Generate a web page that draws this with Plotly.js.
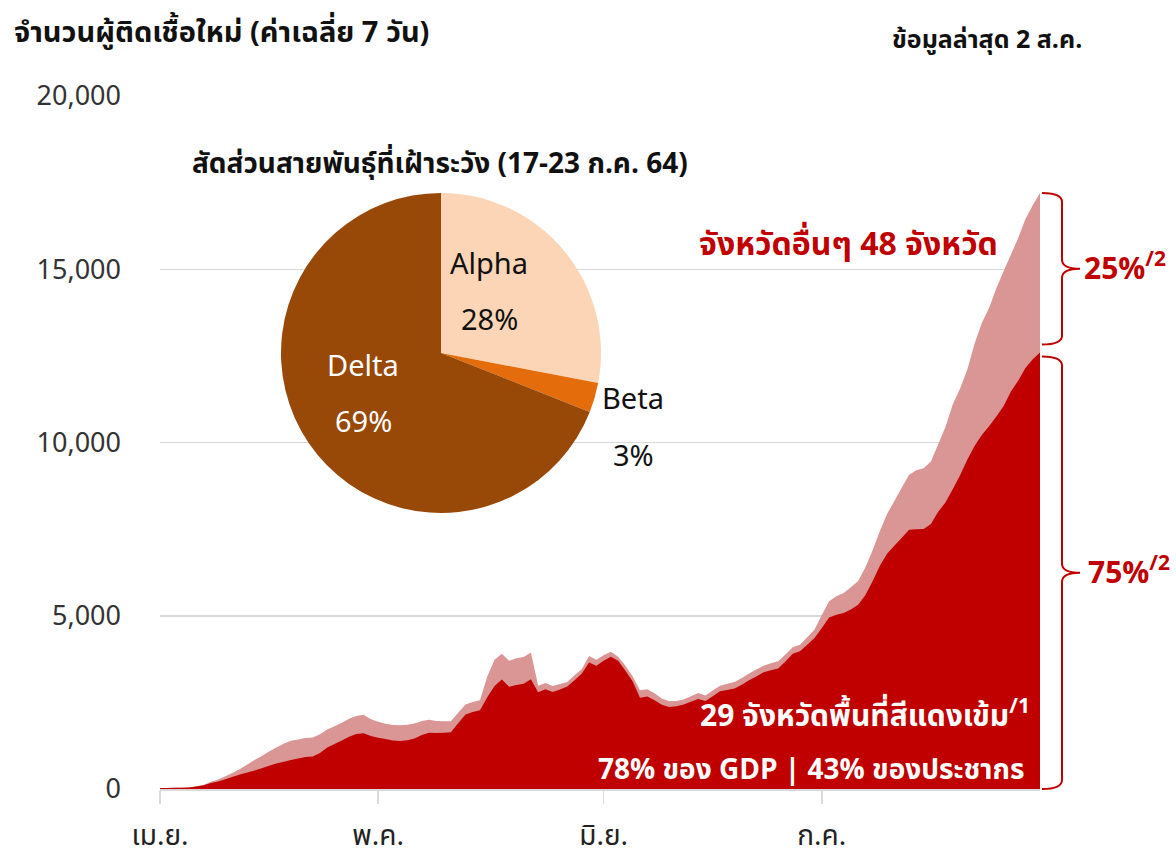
<!DOCTYPE html>
<html>
<head>
<meta charset="utf-8">
<script src="https://cdn.plot.ly/plotly-3.0.1.min.js"></script>
<style>html,body{margin:0;padding:0;background:#fff;}#chart{width:1176px;height:859px;}</style>
</head>
<body>
<div id="chart"></div>
<script>
// ---- DATA (7-day average new cases, daily from 1 Apr 2021) ----
var startDate = '2021-04-01';
var redZone29 = [30,32,35,38,42,75,108,170,215,280,350,420,478,532,600,672,735,790,840,880,
  923,935,1040,1200,1300,1400,1510,1590,1610,1530,1480,1443,1400,1385,1410,1460,1560,1620,1616,1620,
  1640,1900,2150,2220,2270,2650,2970,3160,2950,3000,3040,3170,2789,2880,2800,2870,2960,3140,3330,3650,
  3560,3700,3820,3700,3410,3100,2630,2670,2560,2430,2370,2390,2440,2520,2598,2540,2680,2818,2860,2900,
  3010,3140,3250,3367,3430,3480,3680,3900,3973,4160,4360,4650,4950,5030,5080,5180,5320,5600,6000,6450,
  6800,7030,7250,7480,7500,7506,7650,8000,8270,8650,9050,9500,9900,10220,10470,10750,11050,11470,11780,12150,
  12400,12600];
var totalAll = [30,32,35,38,42,80,115,210,275,370,470,580,710,835,955,1085,1200,1305,1390,1430,
  1471,1485,1580,1720,1810,1915,2030,2110,2140,2010,1940,1885,1850,1840,1855,1890,1960,1995,1960,1952,
  1952,2200,2440,2510,2560,3250,3730,3900,3700,3770,3811,3940,2982,3060,2970,3030,3085,3280,3460,3840,
  3733,3860,3960,3820,3560,3250,2850,2880,2760,2610,2530,2540,2585,2680,2771,2700,2845,2982,3040,3090,
  3200,3330,3450,3560,3630,3690,3880,4090,4166,4380,4600,5020,5420,5560,5660,5820,6000,6400,6900,7450,
  7950,8320,8700,9070,9200,9260,9450,9950,10450,11100,11550,12100,12850,13450,13880,14450,14950,15420,15900,16450,
  16850,17200];
var monthTicks = ['2021-04-01','2021-05-01','2021-06-01','2021-07-01'];
var monthLabels = ['เม.ย.','พ.ค.','มิ.ย.','ก.ค.'];
var yTicks = [0,5000,10000,15000,20000];

var variantLabels = ['Alpha','Beta','Delta'];
var variantShares = [28,3,69];
var variantColors = ['#FBD5B5','#E46C0A','#984807'];

var redShare = '75%';
var otherShare = '25%';

// ---- build dates ----
var dates = [];
(function(){
  var d0 = new Date(startDate + 'T00:00:00Z');
  for (var i = 0; i < totalAll.length; i++) {
    var d = new Date(d0.getTime() + i*86400000);
    dates.push(d.toISOString().slice(0,10));
  }
})();

var FONT = 'Noto Sans Thai, Noto Sans Thai UI, Tahoma, Noto Sans, sans-serif';
var RED = '#C00000', PINK = '#D99694';

// pixel helpers (plot area: x 160..1040, y 96..789)
var L = 160, R = 136, T = 96, B = 70, W = 1176, H = 859;
var PW = W - L - R, PH = H - T - B;
function px(x){ return (x - L)/PW; }
function py(y){ return (H - B - y)/PH; }

var traces = [
  {x: dates, y: totalAll, type: 'scatter', mode: 'none', fill: 'tozeroy',
   fillcolor: PINK, line: {width: 0}, hoverinfo: 'skip', showlegend: false},
  {x: dates, y: redZone29, type: 'scatter', mode: 'none', fill: 'tozeroy',
   fillcolor: RED, line: {width: 0}, hoverinfo: 'skip', showlegend: false},
  {type: 'pie', labels: variantLabels, values: variantShares, sort: false,
   direction: 'clockwise', rotation: 0, textinfo: 'none', hoverinfo: 'skip',
   marker: {colors: variantColors, line: {width: 0}},
   domain: {x: [px(281), px(601)], y: [py(513), py(193)]}, showlegend: false}
];

// curly braces (paper coords; y from data ends)
var yMax = 20000;
var lastTot = totalAll[totalAll.length-1] / yMax;
var lastRed = redZone29[redZone29.length-1] / yMax;
var gap = 4/PH;
function brace(yTop, yBot){
  var x0 = px(1042), x1 = px(1062), x2 = px(1080);
  var r = 9/PH;
  var ym = (yTop + yBot)/2;
  return 'M' + x0 + ',' + yTop +
    ' Q' + x1 + ',' + yTop + ' ' + x1 + ',' + (yTop - r) +
    ' L' + x1 + ',' + (ym + r) +
    ' Q' + x1 + ',' + ym + ' ' + x2 + ',' + ym +
    ' Q' + x1 + ',' + ym + ' ' + x1 + ',' + (ym - r) +
    ' L' + x1 + ',' + (yBot + r) +
    ' Q' + x1 + ',' + yBot + ' ' + x0 + ',' + yBot;
}
var topBrace = [lastTot, lastRed + 2*gap];
var botBrace = [lastRed - gap, 0];

var shapes = [
  {type: 'path', xref: 'paper', yref: 'paper', path: brace(topBrace[0], topBrace[1]),
   line: {color: RED, width: 2}},
  {type: 'path', xref: 'paper', yref: 'paper', path: brace(botBrace[0], botBrace[1]),
   line: {color: RED, width: 2}}
];

function ann(text, x, y, opts){
  var a = {text: text, x: x, y: y, xref: 'paper', yref: 'paper', showarrow: false,
    xanchor: 'center', yanchor: 'middle', font: {family: FONT, size: 24, color: '#111'}};
  for (var k in opts) {
    if (k === 'font') { for (var f in opts.font) a.font[f] = opts.font[f]; }
    else a[k] = opts[k];
  }
  return a;
}

var annotations = [
  ann('<b>จำนวนผู้ติดเชื้อใหม่ (ค่าเฉลี่ย 7 วัน)</b>', px(12), py(33), {xanchor: 'left', font: {size: 29}}),
  ann('<b>ข้อมูลล่าสุด 2 ส.ค.</b>', px(1084), py(40), {xanchor: 'right', font: {size: 25}}),
  ann('<b>สัดส่วนสายพันธุ์ที่เฝ้าระวัง (17-23 ก.ค. 64)</b>', px(440), py(165), {font: {size: 28}}),
  ann('<b>จังหวัดอื่นๆ 48 จังหวัด</b>', px(848), py(245), {font: {size: 32, color: RED}}),
  ann('<b>29 จังหวัดพื้นที่สีแดงเข้ม<sup>/1</sup></b>', px(1032), py(715), {xanchor: 'right', font: {size: 30, color: '#fff'}}),
  ann('<b>78% ของ GDP | 43% ของประชากร</b>', px(1027), py(770), {xanchor: 'right', font: {size: 28, color: '#fff'}}),
  ann(variantLabels[0], px(489), py(265), {font: {size: 29}}),
  ann(variantShares[0] + '%', px(489), py(321), {font: {size: 29}}),
  ann(variantLabels[2], px(363), py(367), {font: {size: 29, color: '#fff'}}),
  ann(variantShares[2] + '%', px(363), py(423), {font: {size: 29, color: '#fff'}}),
  ann(variantLabels[1], px(633), py(400), {font: {size: 29}}),
  ann(variantShares[1] + '%', px(633), py(457), {font: {size: 29}}),
  ann('<b>' + otherShare + '<sup>/2</sup></b>', px(1082), (topBrace[0]+topBrace[1])/2, {xanchor: 'left', font: {size: 30, color: RED}}),
  ann('<b>' + redShare + '<sup>/2</sup></b>', px(1086), (botBrace[0]+botBrace[1])/2, {xanchor: 'left', font: {size: 30, color: RED}})
];

var layout = {
  width: W, height: H,
  margin: {l: L, r: R, t: T, b: B, pad: 0},
  paper_bgcolor: '#fff', plot_bgcolor: '#fff',
  font: {family: FONT, color: '#222'},
  showlegend: false,
  xaxis: {type: 'date', range: [dates[0], dates[dates.length-1]],
    tickmode: 'array', tickvals: monthTicks, ticktext: monthLabels,
    ticks: 'outside', ticklen: 13, tickwidth: 1.5, tickcolor: '#D9D9D9',
    ticklabelstandoff: 8,
    showline: true, linecolor: '#D9D9D9', linewidth: 1.5,
    showgrid: false, zeroline: false,
    tickfont: {family: FONT, size: 28, color: '#222'}, fixedrange: true},
  yaxis: {range: [0, yMax], tickmode: 'array', tickvals: yTicks,
    ticktext: yTicks.map(function(v){ return v.toLocaleString('en-US'); }),
    showgrid: true, gridcolor: '#D9D9D9', gridwidth: 1.5, zeroline: false,
    showline: false, ticks: '', ticklabelstandoff: 38,
    tickfont: {family: FONT, size: 27, color: '#333'}, fixedrange: true},
  shapes: shapes,
  annotations: annotations
};

Plotly.newPlot('chart', traces, layout, {staticPlot: true, displayModeBar: false});
</script>
</body>
</html>
